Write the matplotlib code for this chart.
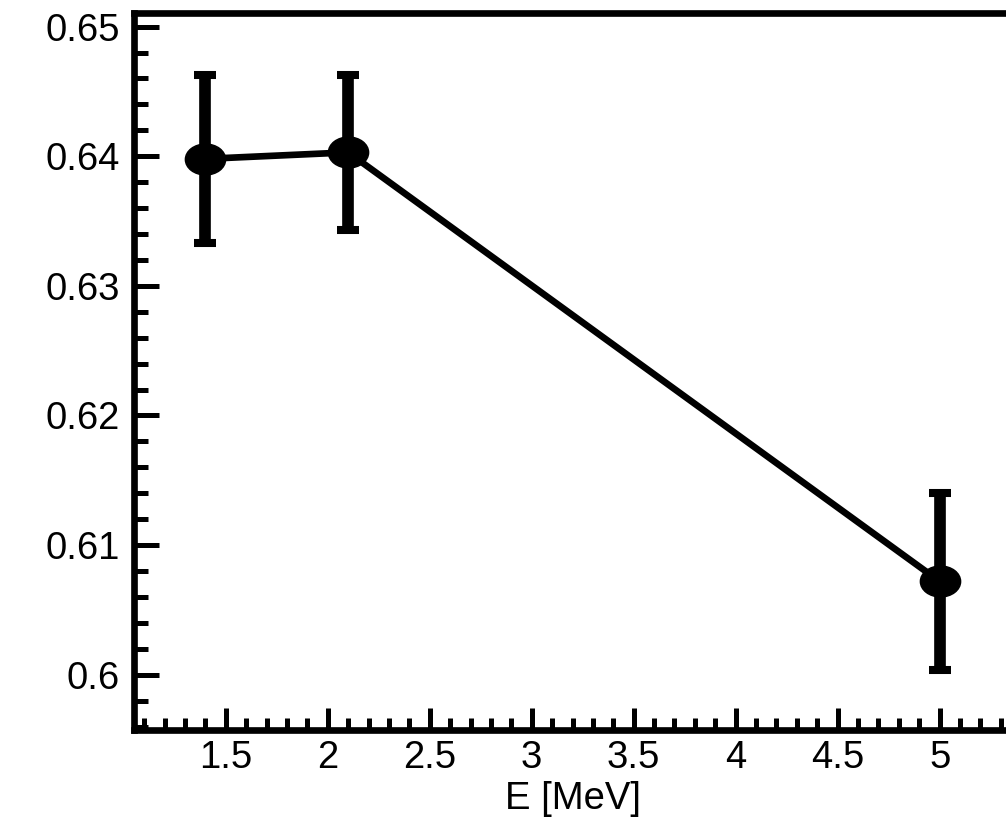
import matplotlib
matplotlib.use("Agg")
import matplotlib.pyplot as plt
from matplotlib.ticker import MultipleLocator, FormatStrFormatter
from matplotlib.path import Path
from matplotlib.transforms import Affine2D

# Energy points and measured values with symmetric errors
energy = [1.4, 2.1, 5.0]
value = [0.6398, 0.6403, 0.6072]
error = [0.0065, 0.0060, 0.0068]

plt.rcParams["font.family"] = ["Liberation Sans", "DejaVu Sans"]

fig = plt.figure(figsize=(10.06, 8.21), dpi=100)
ax = fig.add_axes([0.1332, 0.1108, 0.8718, 0.873])

# slightly flattened dot marker
dot = Path.unit_circle().transformed(Affine2D().scale(1.3, 1.0))

ax.plot(energy, value, color="black", lw=4.8, zorder=2)
ax.errorbar(energy, value, yerr=error, fmt="none", ecolor="black",
            elinewidth=8.4, capsize=8, capthick=5.8, zorder=3)
ax.plot(energy, value, ls="none", marker=dot, ms=29, color="black", zorder=4)

ax.set_xlim(1.05, 5.35)
ax.set_ylim(0.59573, 0.65103)

ax.xaxis.set_major_locator(MultipleLocator(0.5))
ax.xaxis.set_minor_locator(MultipleLocator(0.1))
ax.yaxis.set_major_locator(MultipleLocator(0.01))
ax.yaxis.set_minor_locator(MultipleLocator(0.002))
ax.xaxis.set_major_formatter(FormatStrFormatter("%g"))
ax.yaxis.set_major_formatter(FormatStrFormatter("%g"))

ax.tick_params(which="both", direction="in", width=3.6, top=False, right=False,
               labelsize=27.5)
ax.tick_params(axis="x", which="major", length=16, pad=7)
ax.tick_params(axis="x", which="minor", length=8.6)
ax.tick_params(axis="y", which="major", length=18, pad=10)
ax.tick_params(axis="y", which="minor", length=10)

for side in ["left", "bottom", "top"]:
    ax.spines[side].set_linewidth(4.8)
ax.spines["right"].set_visible(False)

ax.set_xlabel("E [MeV]", fontsize=27.5, labelpad=4)

fig.savefig("out.png", dpi=100)
